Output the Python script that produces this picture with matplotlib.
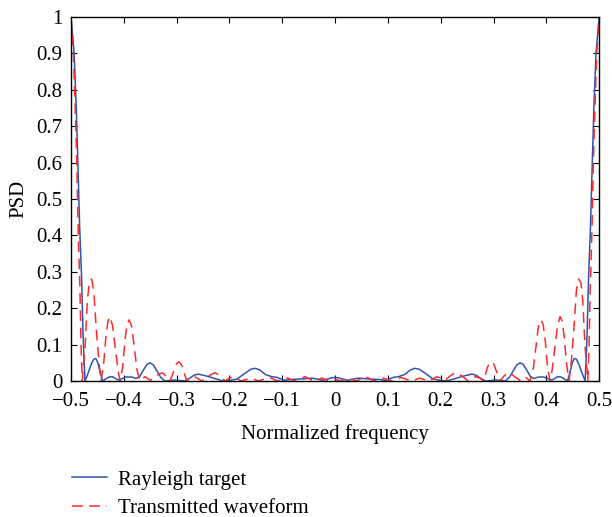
import matplotlib.pyplot as plt
import numpy as np

# left half of the spectrum (f from -0.5 to 0);
# the PSD is symmetric so the right half is its mirror image
rayleigh_f = [-0.500, -0.494, -0.490, -0.487, -0.4835, -0.480, -0.477, -0.4735,
              -0.468, -0.462, -0.457, -0.453, -0.449, -0.445, -0.440,
              -0.435, -0.428, -0.421, -0.415, -0.410, -0.404, -0.395, -0.385,
              -0.377, -0.370, -0.363, -0.356, -0.350, -0.344, -0.337, -0.330,
              -0.322, -0.305, -0.285, -0.275, -0.267, -0.259, -0.250, -0.239,
              -0.228, -0.212, -0.198, -0.185, -0.172, -0.160, -0.151, -0.142,
              -0.132, -0.120, -0.110, -0.100, -0.094, -0.085, -0.075, -0.060,
              -0.044, -0.033, -0.025, -0.015, -0.006, 0.000]
rayleigh_psd = [1.00, 0.90, 0.75, 0.60, 0.42, 0.287, 0.12, 0.000,
                0.020, 0.045, 0.060, 0.062, 0.050, 0.025, 0.000,
                0.005, 0.011, 0.012, 0.006, 0.003, 0.006, 0.011, 0.011,
                0.007, 0.012, 0.030, 0.046, 0.050, 0.044, 0.027, 0.010,
                0.000, 0.003, 0.000, 0.008, 0.016, 0.019, 0.016, 0.012,
                0.007, 0.000, 0.002, 0.006, 0.020, 0.032, 0.035, 0.030,
                0.018, 0.012, 0.010, 0.004, 0.002, 0.004, 0.005, 0.006,
                0.008, 0.005, 0.002, 0.005, 0.009, 0.010]

waveform_f = [-0.500, -0.4955, -0.492, -0.489, -0.4865, -0.483, -0.481, -0.4786,
              -0.473, -0.469, -0.4655, -0.461, -0.457, -0.452, -0.447, -0.443,
              -0.438, -0.434, -0.430, -0.426, -0.421, -0.416, -0.411, -0.407,
              -0.402, -0.398, -0.394, -0.390, -0.385, -0.380, -0.375, -0.369,
              -0.360, -0.350, -0.340, -0.333, -0.326, -0.319, -0.3125,
              -0.306, -0.300, -0.295, -0.289, -0.281, -0.274, -0.266, -0.259,
              -0.252, -0.240, -0.227, -0.216, -0.208, -0.200, -0.193, -0.185,
              -0.178, -0.160, -0.145, -0.125, -0.108, -0.090, -0.075, -0.057,
              -0.040, -0.025, -0.010, 0.000]
waveform_psd = [1.00, 0.90, 0.75, 0.60, 0.42, 0.25, 0.10, 0.000,
                0.10, 0.22, 0.27, 0.28, 0.25, 0.14, 0.05, 0.000,
                0.05, 0.12, 0.165, 0.177, 0.15, 0.09, 0.03, 0.000,
                0.04, 0.11, 0.155, 0.168, 0.15, 0.09, 0.03, 0.000,
                0.012, 0.002, 0.012, 0.020, 0.022, 0.012, 0.000,
                0.025, 0.048, 0.053, 0.040, 0.000, 0.008, 0.012, 0.006,
                0.000, 0.014, 0.023, 0.012, 0.000, 0.008, 0.012, 0.006,
                0.000, 0.008, 0.000, 0.010, 0.000, 0.008, 0.000, 0.012,
                0.000, 0.008, 0.000, 0.005]

x_ticks = [-0.5, -0.4, -0.3, -0.2, -0.1, 0, 0.1, 0.2, 0.3, 0.4, 0.5]
x_labels = ['\u22120.5', '\u22120.4', '\u22120.3', '\u22120.2', '\u22120.1',
            '0', '0.1', '0.2', '0.3', '0.4', '0.5']
y_ticks = [0, 0.1, 0.2, 0.3, 0.4, 0.5, 0.6, 0.7, 0.8, 0.9, 1]
y_labels = ['0', '0.1', '0.2', '0.3', '0.4', '0.5', '0.6', '0.7', '0.8', '0.9', '1']


def mirror(f, v):
    f = np.array(f)
    v = np.array(v)
    return np.concatenate([f, -f[-2::-1]]), np.concatenate([v, v[-2::-1]])


plt.rcParams['font.family'] = ['Liberation Serif', 'DejaVu Serif']
fs = 15

fig = plt.figure(figsize=(6.12, 5.17), dpi=100)
ax = fig.add_axes([0.116, 0.263, 0.863, 0.704])

fr, vr = mirror(rayleigh_f, rayleigh_psd)
fw, vw = mirror(waveform_f, waveform_psd)
ax.plot(fr, vr, color='#2f55b0', lw=1.1, label='Rayleigh target')
ax.plot(fw, vw, color='#ff2a2a', lw=1.1, ls=(0, (7, 4.3)), label='Transmitted waveform')

ax.set_xlim(-0.5, 0.5)
ax.set_ylim(0, 1)
ax.set_xticks(x_ticks)
ax.set_xticklabels(x_labels)
ax.set_yticks(y_ticks)
ax.set_yticklabels(y_labels)
ax.tick_params(direction='in', top=True, right=True, labelsize=fs, length=4)
ax.tick_params(axis='x', pad=8)
ax.tick_params(axis='y', pad=6)
ax.set_xlabel('Normalized frequency', fontsize=fs, labelpad=9)
ax.set_ylabel('PSD', fontsize=fs, labelpad=6)
for s in ax.spines.values():
    s.set_linewidth(1.0)

fig.legend(loc='upper left', bbox_to_anchor=(0.118, 0.091), frameon=False,
           fontsize=fs, handlelength=1.65, labelspacing=0.42, handletextpad=0.55,
           borderpad=0, borderaxespad=0)

fig.savefig('out.png', dpi=100)
